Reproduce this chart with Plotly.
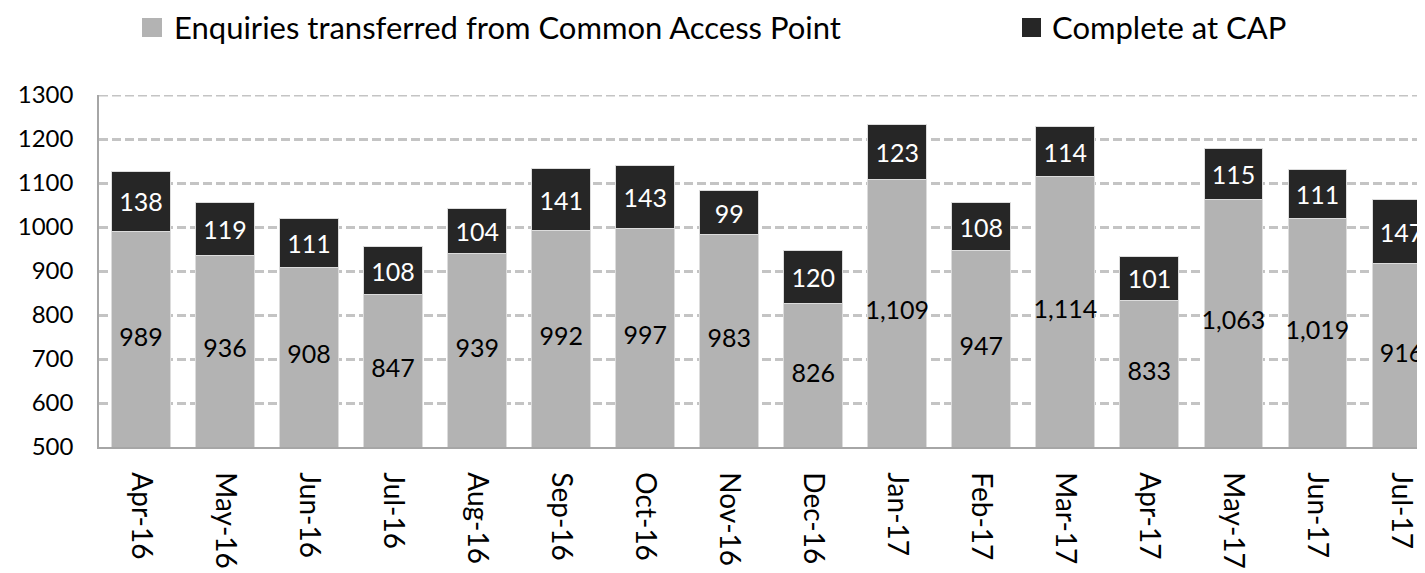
import plotly.graph_objects as go

months = ["Apr-16", "May-16", "Jun-16", "Jul-16", "Aug-16", "Sep-16", "Oct-16", "Nov-16",
          "Dec-16", "Jan-17", "Feb-17", "Mar-17", "Apr-17", "May-17", "Jun-17", "Jul-17"]
transferred = [989, 936, 908, 847, 939, 992, 997, 983, 826, 1109, 947, 1114, 833, 1063, 1019, 916]
complete_cap = [138, 119, 111, 108, 104, 141, 143, 99, 120, 123, 108, 114, 101, 115, 111, 147]
y_ticks = [500, 600, 700, 800, 900, 1000, 1100, 1200, 1300]
series_names = ["Enquiries transferred from Common Access Point", "Complete at CAP"]
series_colors = ["#b3b3b3", "#262626"]

FONT = "Lato"
GRID = "#c4c4c4"

# figure geometry (page is offset by the 8px body margin)
W, H = 1417, 565
L, T, B = 91, 87, 126
PW, PH = W - L, H - T - B


def px_x(fx):
    return (fx - L) / PW


def px_y(fy):
    return (T + PH - fy) / PH


y_min, y_max = y_ticks[0], y_ticks[-1]
label_mid = [(y_min + v) / 2 for v in transferred]

fig = go.Figure()
fig.add_trace(go.Bar(
    x=months, y=transferred, name=series_names[0],
    marker=dict(color=series_colors[0], line=dict(color="#dcdcdc", width=1)),
    hoverinfo="x+y",
))
fig.add_trace(go.Bar(
    x=months, y=complete_cap, name=series_names[1],
    marker=dict(color=series_colors[1], line=dict(color="#dcdcdc", width=1)),
    texttemplate="%{y:,}", textposition="inside", insidetextanchor="middle",
    textangle=0, constraintext="none",
    textfont=dict(family=FONT, size=25, color="#ffffff"),
))
# labels of the grey segment, centred in its visible part
fig.add_trace(go.Scatter(
    x=months, y=label_mid, mode="text",
    text=[f"{v:,}" for v in transferred],
    textfont=dict(family=FONT, size=25, color="#000000"),
    hoverinfo="skip", showlegend=False, cliponaxis=True,
))

# custom legend
legend_items = [
    (134, 154, 164, series_names[0], series_colors[0]),
    (1014, 1033, 1042, series_names[1], series_colors[1]),
]
shapes = [dict(type="line", xref="paper", yref="y", x0=0, x1=1, y0=y_max, y1=y_max,
               line=dict(color=GRID, width=3, dash="9px,4px"), layer="below")]
annotations = []
for x0, x1, xt, name, col in legend_items:
    shapes.append(dict(type="rect", xref="paper", yref="paper",
                       x0=px_x(x0), x1=px_x(x1), y0=px_y(29), y1=px_y(10),
                       fillcolor=col, line=dict(width=0)))
    annotations.append(dict(text=name, xref="paper", yref="paper",
                            x=px_x(xt), y=px_y(19), xanchor="left", yanchor="middle",
                            showarrow=False, font=dict(family=FONT, size=31, color="#000000")))

fig.update_layout(
    barmode="stack", bargap=0.30,
    width=W, height=H,
    margin=dict(l=L, r=0, t=T, b=B, pad=0),
    plot_bgcolor="white", paper_bgcolor="white",
    font=dict(family=FONT, size=24, color="#000000"),
    showlegend=False,
    shapes=shapes, annotations=annotations,
)
fig.update_xaxes(
    range=[-0.5, 15.28], tickangle=90, showline=True, linecolor="#a6a6a6", linewidth=1.5,
    ticks="", ticklabelstandoff=18, tickfont=dict(family=FONT, size=28, color="#000000"),
)
fig.update_yaxes(
    range=[y_min, y_max], tickvals=y_ticks, showgrid=True, gridcolor=GRID, gridwidth=3,
    griddash="9px,4px", showline=True, linecolor="#a6a6a6", linewidth=1.5,
    ticks="", ticklabelstandoff=19, tickfont=dict(family=FONT, size=24, color="#000000"),
    zeroline=False,
)

fig.write_html("out.html")
